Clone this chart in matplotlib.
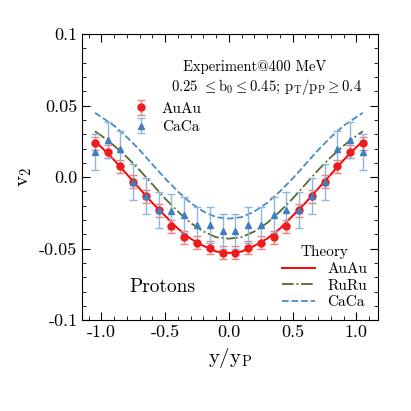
import numpy as np
import matplotlib
matplotlib.use("Agg")
import matplotlib.pyplot as plt
from matplotlib.ticker import MultipleLocator

plt.rcParams["font.family"] = "serif"
plt.rcParams["font.serif"] = ["cmr10", "DejaVu Serif"]
plt.rcParams["mathtext.fontset"] = "cm"
plt.rcParams["axes.formatter.use_mathtext"] = True

# experiment points
x_exp = [-1.05, -0.95, -0.85, -0.75, -0.65, -0.55, -0.45, -0.35, -0.25, -0.15, -0.05,
         0.05, 0.15, 0.25, 0.35, 0.45, 0.55, 0.65, 0.75, 0.85, 0.95, 1.05]
au_v2 = [0.0236, 0.0177, 0.0077, -0.0033, -0.0133, -0.0231, -0.0343, -0.0422, -0.0457, -0.0492, -0.0529,
         -0.0529, -0.0492, -0.0457, -0.0422, -0.0343, -0.0231, -0.0133, -0.0033, 0.0077, 0.0177, 0.0236]
au_err = [0.0045] * 22
ca_v2 = [0.0177, 0.0259, 0.020, -0.0033, -0.0133, -0.023, -0.024, -0.0266, -0.0336, -0.0336, -0.038,
         -0.038, -0.0336, -0.0336, -0.0266, -0.023, -0.023, -0.0133, -0.0033, 0.020, 0.0259, 0.0177]
ca_err = [0.0125] * 22

# theory curves (symmetric, half given for x >= 0)
x_half = [0.0, 0.1, 0.2, 0.3, 0.4, 0.5, 0.6, 0.7, 0.8, 0.9, 1.0, 1.05]
th_au_half = [-0.053, -0.052, -0.048, -0.043, -0.036, -0.027, -0.018, -0.008, 0.002, 0.012, 0.021, 0.025]
th_ru_half = [-0.043, -0.042, -0.038, -0.032, -0.024, -0.015, -0.005, 0.005, 0.014, 0.022, 0.029, 0.032]
th_ca_half = [-0.029, -0.028, -0.024, -0.018, -0.010, -0.001, 0.009, 0.019, 0.028, 0.036, 0.042, 0.045]

def mirror(h, neg=False):
    left = [-v for v in h[::-1]] if neg else h[::-1]
    return left + h[1:]

x_th = mirror(x_half, neg=True)

fig = plt.figure(figsize=(4.11, 4.11), dpi=100)
ax = fig.add_axes([0.2, 0.221, 0.72, 0.696])

l1, = ax.plot(x_th, mirror(th_au_half), "-", color="red", lw=1.4)
l2, = ax.plot(x_th, mirror(th_ru_half), "-.", color="#556b2f", lw=1.3)
l3, = ax.plot(x_th, mirror(th_ca_half), "--", color="#4a8bc4", lw=1.3)
p1 = ax.errorbar(x_exp, au_v2, yerr=au_err, fmt="o", color="#ee1c1c", ms=5,
                 ecolor="#f08080", capsize=3, elinewidth=1)
p2 = ax.errorbar(x_exp, ca_v2, yerr=ca_err, fmt="^", color="#3f7fbf", ms=5,
                 ecolor="#8fb5db", capsize=3, elinewidth=1)

ax.set_xlim(-1.15, 1.17)
ax.set_ylim(-0.1, 0.1)
ax.set_xticks([-1.0, -0.5, 0.0, 0.5, 1.0])
ax.set_xticklabels(["-1.0", "-0.5", "0.0", "0.5", "1.0"])
ax.set_yticks([-0.1, -0.05, 0.0, 0.05, 0.1])
ax.set_yticklabels(["-0.1", "-0.05", "0.0", "0.05", "0.1"])
ax.xaxis.set_minor_locator(MultipleLocator(0.1))
ax.yaxis.set_minor_locator(MultipleLocator(0.01))
ax.tick_params(which="both", direction="in", top=True, right=True, labelsize=13)
ax.tick_params(which="major", length=6)
ax.tick_params(which="minor", length=3)
ax.set_xlabel(r"y/y$_\mathrm{P}$", fontsize=15)
ax.set_ylabel(r"v$_2$", fontsize=15)

ax.text(0.34, 0.87, "Experiment@400 MeV", transform=ax.transAxes, fontsize=10.5)
ax.text(0.3, 0.8, r"0.25 $\leq$b$_0$$\leq$0.45; p$_\mathrm{T}$/p$_\mathrm{P}$$\geq$0.4",
        transform=ax.transAxes, fontsize=10.5)
leg1 = ax.legend([p1, p2], ["AuAu", "CaCa"], loc="upper left", bbox_to_anchor=(0.13, 0.8),
                 frameon=False, fontsize=11, handlelength=1.2, borderpad=0.2, labelspacing=0.3)
ax.add_artist(leg1)
ax.legend([l1, l2, l3], ["AuAu", "RuRu", "CaCa"], title="Theory", loc="lower right",
          frameon=False, fontsize=11, title_fontsize=11, handlelength=2.2,
          borderpad=0.2, labelspacing=0.2)
ax.text(0.16, 0.1, "Protons", transform=ax.transAxes, fontsize=14)

fig.savefig("out.png", dpi=100)
